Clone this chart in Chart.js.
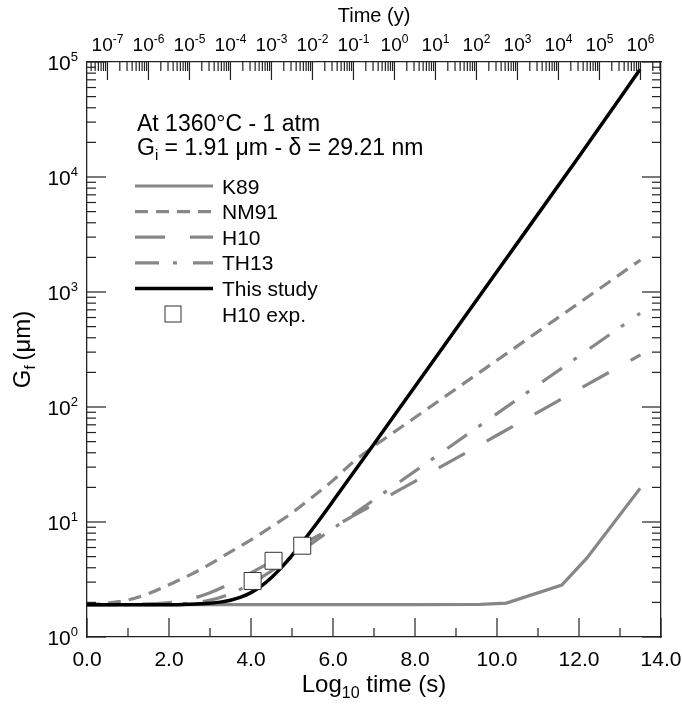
<!DOCTYPE html>
<html>
<head>
<meta charset="utf-8">
<title>Grain growth at 1360°C</title>
<script src="https://cdn.jsdelivr.net/npm/chart.js@4.4.1/dist/chart.umd.min.js"></script>
<style>
  html, body { margin: 0; padding: 0; background: #fff; }
  #wrap { width: 682px; height: 704px; }
</style>
</head>
<body>
<div id="wrap"><canvas id="grainChart" width="682" height="704"></canvas></div>
<script>
// log10 of time in seconds for each curve, and final grain size Gf (um)
const k89X = [0, 2, 4, 6, 8, 9.6, 10.23, 11.58, 12.19, 13.49];
const k89Y = [1.91, 1.91, 1.91, 1.91, 1.91, 1.92, 1.97, 2.83, 4.85, 19.6];

const nm91X = [0, 0.5, 1, 1.5, 2, 2.5, 3, 3.5, 4, 4.5, 5, 5.5, 6, 6.5, 7, 8, 10, 12, 13.5];
const nm91Y = [1.91, 1.97, 2.1, 2.38, 2.85, 3.45, 4.3, 5.5, 7.0, 9.1, 12.0, 16.5, 23.0, 33.5, 45.6, 81, 255, 802, 1900];

const h10X = [0, 1, 2, 2.5, 3, 3.5, 4, 4.5, 5, 5.5, 6, 7, 8, 10, 12, 13.5];
const h10Y = [1.91, 1.92, 1.99, 2.13, 2.43, 2.92, 3.61, 4.52, 5.68, 7.15, 9.0, 14.3, 22.6, 56.8, 143, 284];

const th13X = [0, 1, 2, 2.5, 3, 3.5, 4, 4.5, 5, 5.5, 6, 7, 8, 10, 12, 13.49];
const th13Y = [1.91, 1.91, 1.93, 1.97, 2.09, 2.38, 2.92, 3.76, 4.95, 6.58, 8.76, 15.6, 27.7, 87.6, 277, 653];

const studyX = [0, 1, 2, 2.5, 3, 3.25, 3.5, 3.75, 4, 4.25, 4.5, 4.75, 5, 5.25, 5.5, 6, 7, 8, 10, 12, 13.49];
const studyY = [1.91, 1.91, 1.91, 1.93, 1.97, 2.01, 2.09, 2.22, 2.43, 2.77, 3.29, 4.05, 5.13, 6.64, 8.68, 15.2, 47.6, 151, 1507, 15070, 86500];

const expX = [4.04, 4.55, 5.25];
const expY = [3.07, 4.6, 6.22];

// axis ticks
const bottomMajor = [0, 2, 4, 6, 8, 10, 12, 14];
const bottomMinor = [1, 3, 5, 7, 9, 11, 13];
const yearExponents = [-7, -6, -5, -4, -3, -2, -1, 0, 1, 2, 3, 4, 5, 6];
const gExponents = [0, 1, 2, 3, 4, 5];
const legendOrder = ['K89', 'NM91', 'H10', 'TH13', 'This study', 'H10 exp.'];

const secPerYear = Math.log10(365.25 * 24 * 3600);
const FONT = '"Liberation Sans", Arial, Helvetica, sans-serif';
const grey = '#878787';

const pts = (xs, ys) => xs.map((x, i) => ({x: x, y: ys[i]}));
const font = px => `${px}px ${FONT}`;

// draws a run of text pieces: [text, size, dy]
function richText(ctx, parts, x, y, align) {
    let total = 0;
    parts.forEach(p => { ctx.font = font(p[1]); total += ctx.measureText(p[0]).width; });
    let cx = align === 'center' ? x - total / 2 : align === 'right' ? x - total : x;
    ctx.textAlign = 'left';
    ctx.textBaseline = 'alphabetic';
    parts.forEach(p => {
        ctx.font = font(p[1]);
        ctx.fillText(p[0], cx, y + (p[2] || 0));
        cx += ctx.measureText(p[0]).width;
    });
}

const frameTicks = {
    id: 'frameTicks',
    afterDraw(chart) {
        const {ctx, chartArea: a, scales} = chart;
        const xs = scales.x, ys = scales.y;
        ctx.save();
        ctx.strokeStyle = '#222';
        ctx.lineWidth = 1.2;
        const line = (x1, y1, x2, y2) => {
            ctx.beginPath(); ctx.moveTo(x1, y1); ctx.lineTo(x2, y2); ctx.stroke();
        };
        // bottom
        bottomMajor.forEach(v => { const p = xs.getPixelForValue(v); line(p, a.bottom, p, a.bottom - 19); });
        bottomMinor.forEach(v => { const p = xs.getPixelForValue(v); line(p, a.bottom, p, a.bottom - 9); });
        // top, years
        for (let e = -8; e <= 6; e++) {
            for (let m = 1; m <= 9; m++) {
                const v = secPerYear + e + Math.log10(m);
                if (v < 0 || v > 14) continue;
                const p = xs.getPixelForValue(v);
                line(p, a.top, p, a.top + (m === 1 ? 18 : 9));
            }
        }
        // left + right, log
        gExponents.forEach(e => {
            for (let m = 1; m <= 9; m++) {
                const v = m * Math.pow(10, e);
                if (v > 1e5) continue;
                const p = ys.getPixelForValue(v);
                const len = m === 1 ? 19 : 9;
                line(a.left, p, a.left + len, p);
                line(a.right, p, a.right - len, p);
            }
        });
        ctx.fillStyle = '#000';
        // y labels
        gExponents.forEach(e => {
            const p = ys.getPixelForValue(Math.pow(10, e));
            richText(ctx, [['10', 21, 0], [String(e), 13, -9]], 78, p + 8, 'right');
        });
        // top labels
        yearExponents.forEach(e => {
            const p = xs.getPixelForValue(secPerYear + e);
            richText(ctx, [['10', 19, 0], [String(e), 12, -8]], p, 51, 'center');
        });
        // axis titles
        richText(ctx, [['Time (y)', 20, 0]], (a.left + a.right) / 2, 22, 'center');
        richText(ctx, [['Log', 24, 0], ['10', 16, 6], [' time (s)', 24, 0]], (a.left + a.right) / 2, 692, 'center');
        ctx.save();
        ctx.translate(22, (a.top + a.bottom) / 2);
        ctx.rotate(-Math.PI / 2);
        richText(ctx, [['G', 24, 0], ['f', 15, 5], ['\u2009(\u03bcm)', 24, 0]], 0, 8, 'center');
        ctx.restore();
        // annotation
        richText(ctx, [['At 1360\u00b0C - 1 atm', 23, 0]], 137, 131, 'left');
        richText(ctx, [['G', 23, 0], ['i', 15, 5], [' = 1.91 \u03bcm - \u03b4 = 29.21 nm', 23, 0]], 137, 155, 'left');
        // legend from the datasets
        legendOrder.forEach((name, i) => {
            const ds = chart.data.datasets.find(d => d.label === name);
            const y = 186 + i * 25.6;
            if (ds.showLine === false) {
                ctx.fillStyle = '#fff';
                ctx.strokeStyle = ds.pointBorderColor;
                ctx.lineWidth = ds.pointBorderWidth;
                ctx.fillRect(165, y - 8, 16, 16);
                ctx.strokeRect(165, y - 8, 16, 16);
            } else {
                ctx.strokeStyle = ds.borderColor;
                ctx.lineWidth = ds.borderWidth;
                ctx.setLineDash(ds.borderDash || []);
                line(135, y, 213, y);
                ctx.setLineDash([]);
            }
            ctx.fillStyle = '#000';
            richText(ctx, [[name, 21, 0]], 222, y + 7.5, 'left');
        });
        ctx.restore();
    }
};

const lineSet = (label, xs, ys, color, width, dash, smooth) => ({
    label: label,
    data: pts(xs, ys),
    borderColor: color,
    borderWidth: width,
    borderDash: dash,
    borderCapStyle: 'butt',
    pointRadius: 0,
    fill: false,
    cubicInterpolationMode: smooth ? 'monotone' : 'default',
    tension: 0
});

const noPad = s => { s.paddingLeft = 0; s.paddingRight = 0; };

const ctx = document.getElementById('grainChart').getContext('2d');
new Chart(ctx, {
    type: 'line',
    data: {
        datasets: [
            {
                label: 'H10 exp.',
                data: pts(expX, expY),
                showLine: false,
                pointStyle: 'rect',
                pointRadius: 12,
                pointBackgroundColor: '#fff',
                pointBorderColor: '#333',
                pointBorderWidth: 1
            },
            lineSet('This study', studyX, studyY, '#000', 3.5, [], true),
            lineSet('TH13', th13X, th13Y, grey, 3.2, [24, 14, 4, 16], true),
            lineSet('H10', h10X, h10Y, grey, 3.2, [30, 25], true),
            lineSet('NM91', nm91X, nm91Y, grey, 3.2, [13, 8], true),
            lineSet('K89', k89X, k89Y, grey, 3.2, [], false)
        ]
    },
    options: {
        responsive: false,
        devicePixelRatio: 1,
        animation: false,
        events: [],
        layout: { padding: 0 },
        plugins: { legend: { display: false }, tooltip: { enabled: false } },
        scales: {
            x: {
                type: 'linear', position: 'bottom', min: 0, max: 14,
                grid: { display: false, drawTicks: false },
                border: { display: true, color: '#222', width: 1.3 },
                ticks: {
                    stepSize: 2, padding: 11, color: '#000',
                    font: { family: FONT, size: 21 },
                    maxRotation: 0,
                    callback: v => v.toFixed(1)
                },
                afterFit: s => { s.height = 67; noPad(s); }
            },
            xTop: {
                type: 'linear', position: 'top', min: 0, max: 14,
                grid: { display: false, drawTicks: false },
                border: { display: true, color: '#222', width: 1.3 },
                ticks: { display: false },
                afterFit: s => { s.height = 62; noPad(s); }
            },
            y: {
                type: 'logarithmic', position: 'left', min: 1, max: 1e5,
                grid: { display: false, drawTicks: false },
                border: { display: true, color: '#222', width: 1.3 },
                ticks: { display: false },
                afterFit: s => { s.width = 87; }
            },
            yRight: {
                type: 'logarithmic', position: 'right', min: 1, max: 1e5,
                grid: { display: false, drawTicks: false },
                border: { display: true, color: '#222', width: 1.3 },
                ticks: { display: false },
                afterFit: s => { s.width = 21; }
            }
        }
    },
    plugins: [frameTicks]
});
</script>
</body>
</html>
